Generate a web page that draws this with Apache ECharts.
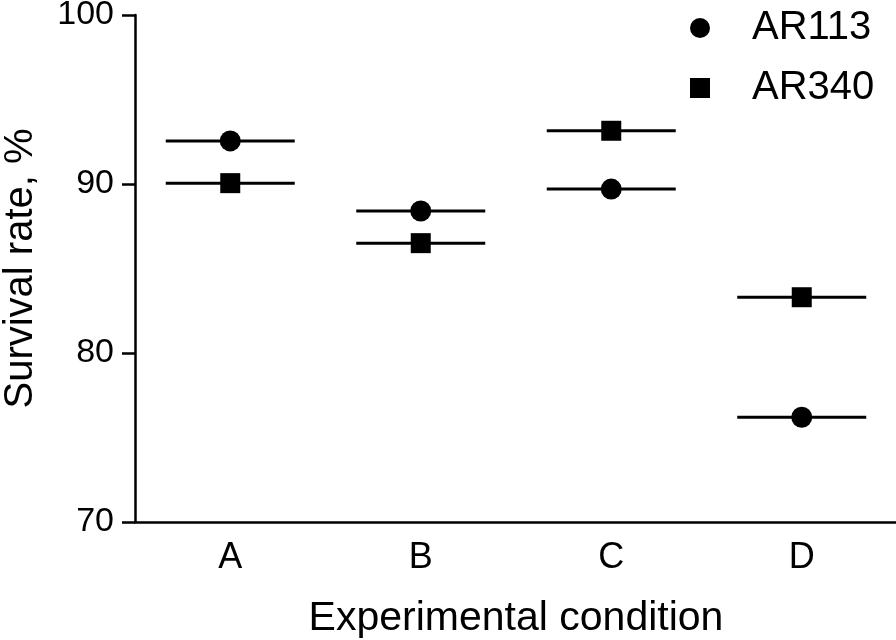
<!DOCTYPE html>
<html>
<head>
<meta charset="utf-8">
<script src="https://cdn.jsdelivr.net/npm/echarts@6/dist/echarts.min.js"></script>
<style>html,body{margin:0;padding:0;background:#fff}#c{width:896px;height:640px}</style>
</head>
<body>
<div id="c"></div>
<script>
const categories = ['A', 'B', 'C', 'D'];
const ar113 = [92.55, 88.4, 89.7, 76.2];
const ar340 = [90.05, 86.5, 93.15, 83.3];
const yTicks = [70, 80, 90, 100];

const FONT = 'Liberation Sans, Arial, sans-serif';
const chart = echarts.init(document.getElementById('c'), null, {renderer: 'canvas'});
chart.setOption({
  animation: false,
  backgroundColor: '#fff',
  grid: {left: 135, top: 15, width: 762, bottom: 118, containLabel: false, outerBoundsMode: 'none'},
  xAxis: {
    type: 'category',
    data: categories,
    boundaryGap: true,
    name: 'Experimental condition',
    nameLocation: 'middle',
    nameGap: 76,
    nameTextStyle: {fontFamily: FONT, fontSize: 41, color: '#000'},
    axisLine: {lineStyle: {color: '#000', width: 2.5}},
    axisTick: {alignWithLabel: true, length: 15, lineStyle: {color: '#000', width: 2.5}},
    axisLabel: {fontFamily: FONT, fontSize: 36, color: '#000', margin: 18},
    splitLine: {show: false}
  },
  yAxis: {
    type: 'value',
    min: yTicks[0],
    max: yTicks[yTicks.length - 1],
    interval: 10,
    name: 'Survival rate, %',
    nameLocation: 'middle',
    nameRotate: 90,
    nameGap: 94,
    nameTextStyle: {fontFamily: FONT, fontSize: 40, color: '#000'},
    axisLine: {show: true, lineStyle: {color: '#000', width: 2.5}},
    axisTick: {show: true, length: 13, lineStyle: {color: '#000', width: 2.5}},
    axisLabel: {fontFamily: FONT, fontSize: 34, color: '#000', margin: 21},
    splitLine: {show: false}
  },
  legend: {
    data: ['AR113', 'AR340'],
    orient: 'vertical',
    left: 685,
    top: 3,
    itemWidth: 20,
    itemHeight: 20,
    itemGap: 20,
    itemStyle: {opacity: 1},
    textStyle: {fontFamily: FONT, fontSize: 40, color: '#000', padding: [0, 0, 0, 37], lineHeight: 40}
  },
  series: [
    {
      name: 'line113', type: 'scatter', symbol: 'rect', symbolSize: [129, 3],
      itemStyle: {color: '#000', opacity: 1}, data: ar113, z: 2, silent: true
    },
    {
      name: 'line340', type: 'scatter', symbol: 'rect', symbolSize: [129, 3],
      itemStyle: {color: '#000', opacity: 1}, data: ar340, z: 2, silent: true
    },
    {
      name: 'AR113', type: 'scatter', symbol: 'circle', symbolSize: 21,
      itemStyle: {color: '#000', opacity: 1}, data: ar113, z: 3
    },
    {
      name: 'AR340', type: 'scatter', symbol: 'rect', symbolSize: 20,
      itemStyle: {color: '#000', opacity: 1}, data: ar340, z: 3
    }
  ]
});
</script>
</body>
</html>
